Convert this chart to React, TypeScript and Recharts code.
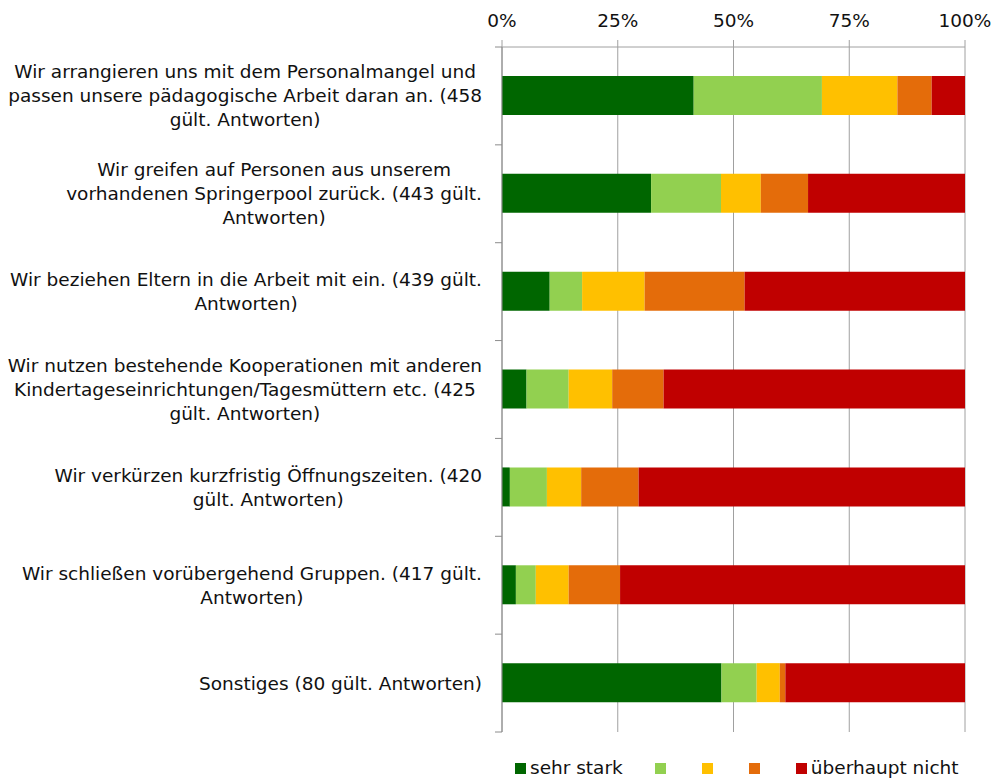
import React from 'react';
import { BarChart, Bar, XAxis, YAxis, CartesianGrid, Legend } from 'recharts';

const categories = [
  'Wir arrangieren uns mit dem Personalmangel und\npassen unsere pädagogische Arbeit daran an. (458\ngült. Antworten)',
  'Wir greifen auf Personen aus unserem\nvorhandenen Springerpool zurück. (443 gült.\nAntworten)',
  'Wir beziehen Eltern in die Arbeit mit ein. (439 gült.\nAntworten)',
  'Wir nutzen bestehende Kooperationen mit anderen\nKindertageseinrichtungen/Tagesmüttern etc. (425\ngült. Antworten)',
  'Wir verkürzen kurzfristig Öffnungszeiten. (420\ngült. Antworten)',
  'Wir schließen vorübergehend Gruppen. (417 gült.\nAntworten)',
  'Sonstiges (80 gült. Antworten)',
];

const sehrStark = [41.4, 32.2, 10.3, 5.3, 1.7, 3.0, 47.4];
const stufe2 = [27.7, 15.1, 7.0, 9.1, 8.0, 4.3, 7.6];
const stufe3 = [16.3, 8.6, 13.5, 9.4, 7.4, 7.1, 5.0];
const stufe4 = [7.4, 10.2, 21.6, 11.1, 12.4, 11.1, 1.2];
const ueberhauptNicht = [7.2, 33.9, 47.6, 65.1, 70.5, 74.5, 38.8];

const xTicks = [0, 25, 50, 75, 100];
const seriesKeys = ['s1', 's2', 's3', 's4', 's5'];
const legendLabels = ['sehr stark', '', '', '', 'überhaupt nicht'];
const colors = ['#006600', '#92D050', '#FFC000', '#E46C0A', '#C00000'];

const data = categories.map((c, i) => ({
  name: c,
  s1: sehrStark[i],
  s2: stufe2[i],
  s3: stufe3[i],
  s4: stufe4[i],
  s5: ueberhauptNicht[i],
}));

const W = 994;
const H = 779;
const FONT = "'DejaVu Sans', Verdana, sans-serif";
const FS = 18.5;
const MARGIN = { top: 17, right: 29, bottom: 0, left: 0 };
const X_AXIS_H = 30;
const Y_AXIS_W = 502;
const LEGEND_H = 47;
const PLOT_TOP = MARGIN.top + X_AXIS_H;
const PLOT_BOTTOM = H - MARGIN.bottom - LEGEND_H;
const BAND = (PLOT_BOTTOM - PLOT_TOP) / categories.length;
const AXIS_X = MARGIN.left + Y_AXIS_W;
const LABEL_RIGHT = 482;
const LINE_H = 24;
const TEXT_COLOR = '#111';
const AXIS_COLOR = '#8C8C8C';
const GRID_COLOR = '#A0A0A0';

let canvasCtx: CanvasRenderingContext2D | null = null;
const measure = (s: string) => {
  if (!canvasCtx) {
    const c = document.createElement('canvas');
    canvasCtx = c.getContext('2d');
  }
  if (!canvasCtx) return s.length * FS * 0.55;
  canvasCtx.font = `${FS}px 'DejaVu Sans'`;
  return canvasCtx.measureText(s).width;
};

const CategoryTick = (props: any) => {
  const { y, payload, index } = props;
  const lines: string[] = String(payload.value).split('\n');
  const maxW = Math.max(...lines.map(measure));
  const cx = LABEL_RIGHT - maxW / 2;
  const n = lines.length;
  const top = y - BAND / 2;
  return (
    <g>
      <line x1={AXIS_X - 7} x2={AXIS_X} y1={top} y2={top} stroke={AXIS_COLOR} strokeWidth={1} />
      {index === categories.length - 1 && (
        <line x1={AXIS_X - 7} x2={AXIS_X} y1={top + BAND} y2={top + BAND} stroke={AXIS_COLOR} strokeWidth={1} />
      )}
      <text x={cx} y={y} textAnchor="middle" fontFamily={FONT} fontSize={FS} fill={TEXT_COLOR}>
        {lines.map((l, i) => (
          <tspan key={i} x={cx} y={y + (i - (n - 1) / 2) * LINE_H} dy="0.35em">
            {l}
          </tspan>
        ))}
      </text>
    </g>
  );
};

const renderLegend = () => (
  <div
    style={{
      display: 'flex',
      alignItems: 'center',
      paddingLeft: 515,
      paddingTop: 26,
      height: 20,
      lineHeight: '20px',
      fontFamily: FONT,
      fontSize: FS,
      color: TEXT_COLOR,
      whiteSpace: 'nowrap',
    }}
  >
    {legendLabels.map((l, i) => (
      <div key={i} style={{ display: 'flex', alignItems: 'center', marginRight: 32 }}>
        <span style={{ width: 11, height: 11, background: colors[i], display: 'inline-block', marginRight: 4 }} />
        <span>{l}</span>
      </div>
    ))}
  </div>
);

export default function App() {
  return (
    <div style={{ position: 'absolute', left: 0, top: 0, width: W, height: H, overflow: 'hidden', background: '#fff' }}>
      <BarChart width={W} height={H} data={data} layout="vertical" margin={MARGIN} barSize={39}>
        <CartesianGrid horizontal={false} vertical stroke={GRID_COLOR} />
        <XAxis
          type="number"
          orientation="top"
          domain={[0, 100]}
          ticks={xTicks}
          height={X_AXIS_H}
          tickSize={7}
          tickMargin={13}
          interval={0}
          tickFormatter={(v: number) => `${v}%`}
          tick={{ fontFamily: FONT, fontSize: FS, fill: TEXT_COLOR }}
          axisLine={{ stroke: GRID_COLOR }}
          tickLine={{ stroke: GRID_COLOR }}
          allowDataOverflow
        />
        <YAxis
          type="category"
          dataKey="name"
          width={Y_AXIS_W}
          tickLine={false}
          tickSize={0}
          interval={0}
          axisLine={{ stroke: AXIS_COLOR }}
          tick={<CategoryTick />}
        />
        <Legend verticalAlign="bottom" align="left" height={LEGEND_H} content={renderLegend} />
        {seriesKeys.map((k, i) => (
          <Bar key={k} dataKey={k} name={legendLabels[i]} stackId="a" fill={colors[i]} isAnimationActive={false} />
        ))}
      </BarChart>
    </div>
  );
}
